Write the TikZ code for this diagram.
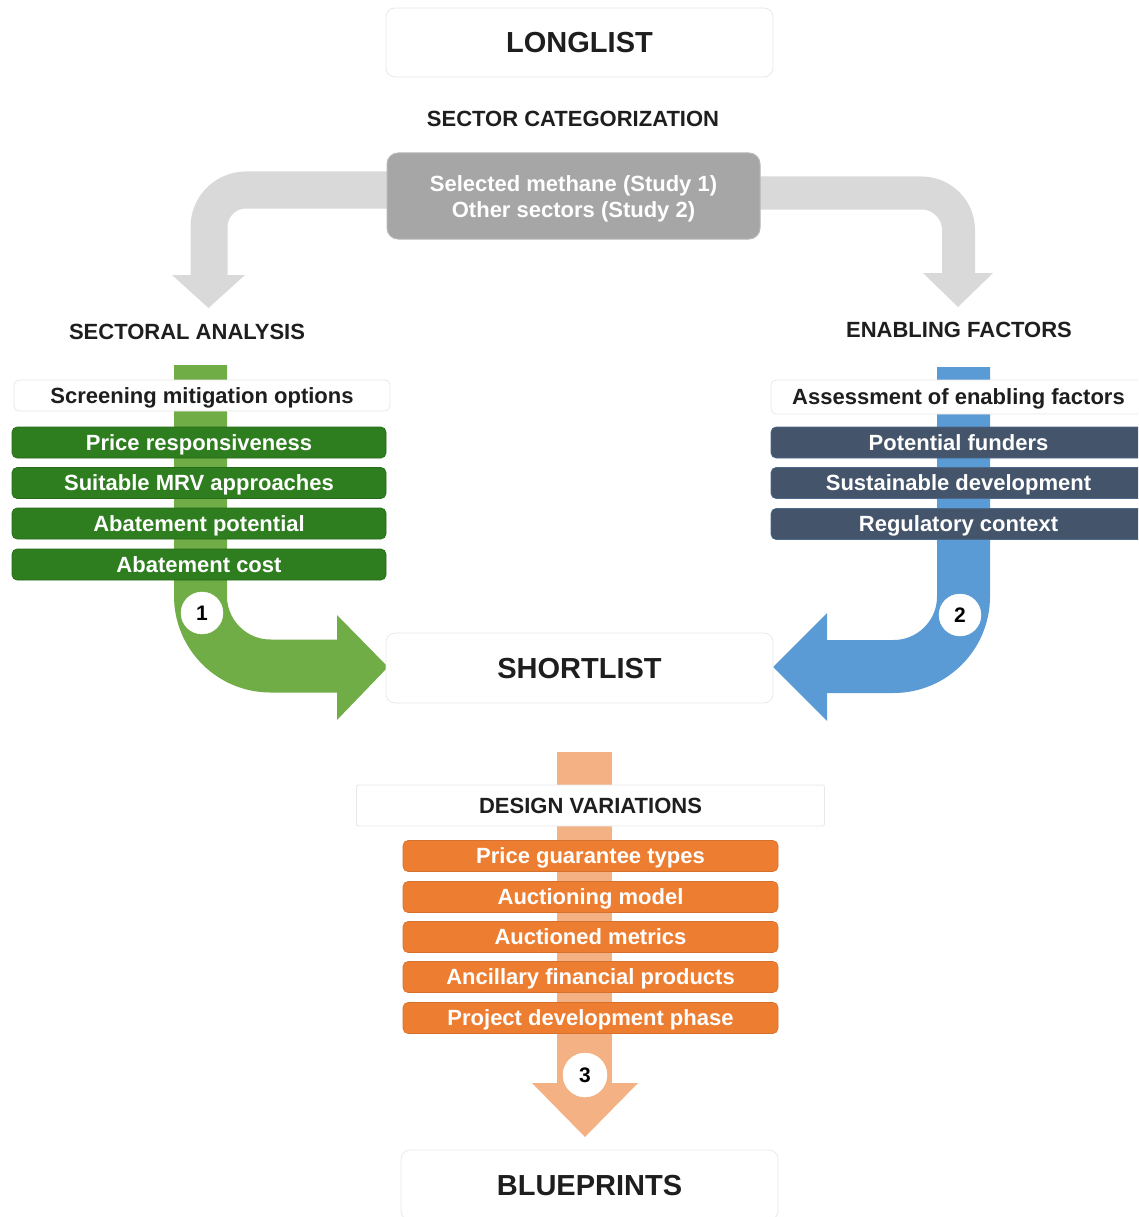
\documentclass[tikz,border=0pt]{standalone}
\usepackage{fontspec}
\setmainfont{Liberation Sans}
\definecolor{arrowgray}{HTML}{D9D9D9}
\definecolor{boxgray}{HTML}{A6A6A6}
\definecolor{greenA}{HTML}{70AD47}
\definecolor{greenD}{HTML}{2E7D1F}
\definecolor{blueA}{HTML}{5B9BD5}
\definecolor{blueD}{HTML}{44546A}
\definecolor{orangeA}{HTML}{F4B183}
\definecolor{orangeD}{HTML}{ED7D31}
\definecolor{ink}{HTML}{1E1E1E}
\begin{document}
\begin{tikzpicture}[x=1pt,y=-1pt,
  wbox/.style={draw=black!9, fill=white, rounded corners=9pt, line width=0.8pt, inner sep=0pt},
  bigtxt/.style={font=\fontsize{29}{32}\selectfont\bfseries, text=ink, text height=20.8pt, text depth=0pt},
  headtxt/.style={font=\fontsize{22}{24}\selectfont\bfseries, text=ink, text height=15.75pt, text depth=0pt},
  itemtxt/.style={font=\fontsize{22}{24}\selectfont\bfseries, text height=15.75pt, text depth=0pt},
  itembox/.style={itemtxt, text=white, rounded corners=5pt, minimum height=31pt, inner sep=0pt, line width=0.6pt},
  gitem/.style={itembox, fill=greenD, draw=greenD!85!black, minimum width=374pt},
  bitem/.style={itembox, fill=blueD, draw=blueD!70!blueA, minimum width=375pt},
  oitem/.style={itembox, fill=orangeD, draw=orangeD!90!black, minimum width=375pt},
  numc/.style={circle, fill=white, draw=white, minimum size=42pt, inner sep=0pt, font=\fontsize{21}{22}\selectfont\bfseries, text=black, text height=15pt, text depth=0pt}
]
\useasboundingbox (0,0) rectangle (1138,1217);
\clip (0,0) rectangle (1138,1217);

% ---- big arrows (shapes) ----
\draw[line width=37pt, draw=arrowgray, rounded corners=37pt] (400,190) -- (209,190) -- (209,276);
\fill[arrowgray] (172,275) -- (245,275) -- (208.5,308) -- cycle;
\draw[line width=33pt, draw=arrowgray, rounded corners=37pt] (750,193) -- (958.5,193) -- (958.5,274);
\fill[arrowgray] (923,273) -- (993,273) -- (958,307) -- cycle;

\draw[line width=53pt, draw=greenA, rounded corners=70pt] (200.5,365) -- (200.5,666) -- (338,666);
\fill[greenA] (337,615) -- (388,667) -- (337,720) -- cycle;

\draw[line width=53pt, draw=blueA, rounded corners=70pt] (963.5,367) -- (963.5,666.5) -- (826,666.5);
\fill[blueA] (827,613) -- (773,667) -- (827,721) -- cycle;

\draw[line width=55pt, draw=orangeA] (584.5,752) -- (584.5,1084);
\fill[orangeA] (532,1083) -- (638,1083) -- (585,1137) -- cycle;

% ---- top ----
\node[wbox, minimum width=387pt, minimum height=69pt, bigtxt] (longlist) at (579.5,42.5) {LONGLIST};
\node[headtxt] (seccat) at (573,119) {SECTOR CATEGORIZATION};
\node[fill=boxgray, draw=boxgray!80!white, line width=1pt, rounded corners=11pt, minimum width=373pt, minimum height=86pt] (selected) at (573.5,196) {};
\node[itemtxt, text=white] (sel1) at (573.5,183.5) {Selected methane (Study 1)};
\node[itemtxt, text=white] (sel2) at (573.5,210) {Other sectors (Study 2)};

% ---- left column ----
\node[headtxt] (sectoral) at (187,332) {SECTORAL ANALYSIS};
\node[wbox, rounded corners=5pt, minimum width=376pt, minimum height=31pt, headtxt] (screening) at (202,395.5) {Screening mitigation options};
\node[gitem] (g1) at (199,442.5) {Price responsiveness};
\node[gitem] (g2) at (199,483) {Suitable MRV approaches};
\node[gitem] (g3) at (199,523.5) {Abatement potential};
\node[gitem] (g4) at (199,564.5) {Abatement cost};
\node[numc] (n1) at (202,613) {1};

% ---- right column ----
\node[headtxt] (enabling) at (959,330) {ENABLING FACTORS};
\node[wbox, rounded corners=5pt, minimum width=375pt, minimum height=34pt, headtxt] (assess) at (958.5,397) {Assessment of enabling factors};
\node[bitem] (b1) at (958.5,442.5) {Potential funders};
\node[bitem] (b2) at (958.5,483) {Sustainable development};
\node[bitem] (b3) at (958.5,524) {Regulatory context};
\node[numc] (n2) at (960,615) {2};

% ---- shortlist ----
\node[wbox, minimum width=387pt, minimum height=70pt, bigtxt] (shortlist) at (579.5,668) {SHORTLIST};

% ---- design variations ----
\node[wbox, rounded corners=2pt, minimum width=468pt, minimum height=41pt, headtxt] (design) at (590.5,805.5) {DESIGN VARIATIONS};
\node[oitem] (o1) at (590.5,856) {Price guarantee types};
\node[oitem] (o2) at (590.5,897) {Auctioning model};
\node[oitem] (o3) at (590.5,937) {Auctioned metrics};
\node[oitem] (o4) at (590.5,977) {Ancillary financial products};
\node[oitem] (o5) at (590.5,1018) {Project development phase};
\node[numc, minimum size=44pt] (n3) at (585,1075) {3};

% ---- blueprints ----
\node[wbox, minimum width=377pt, minimum height=70pt, bigtxt] (blueprints) at (589.5,1185) {BLUEPRINTS};
\end{tikzpicture}
\end{document}
